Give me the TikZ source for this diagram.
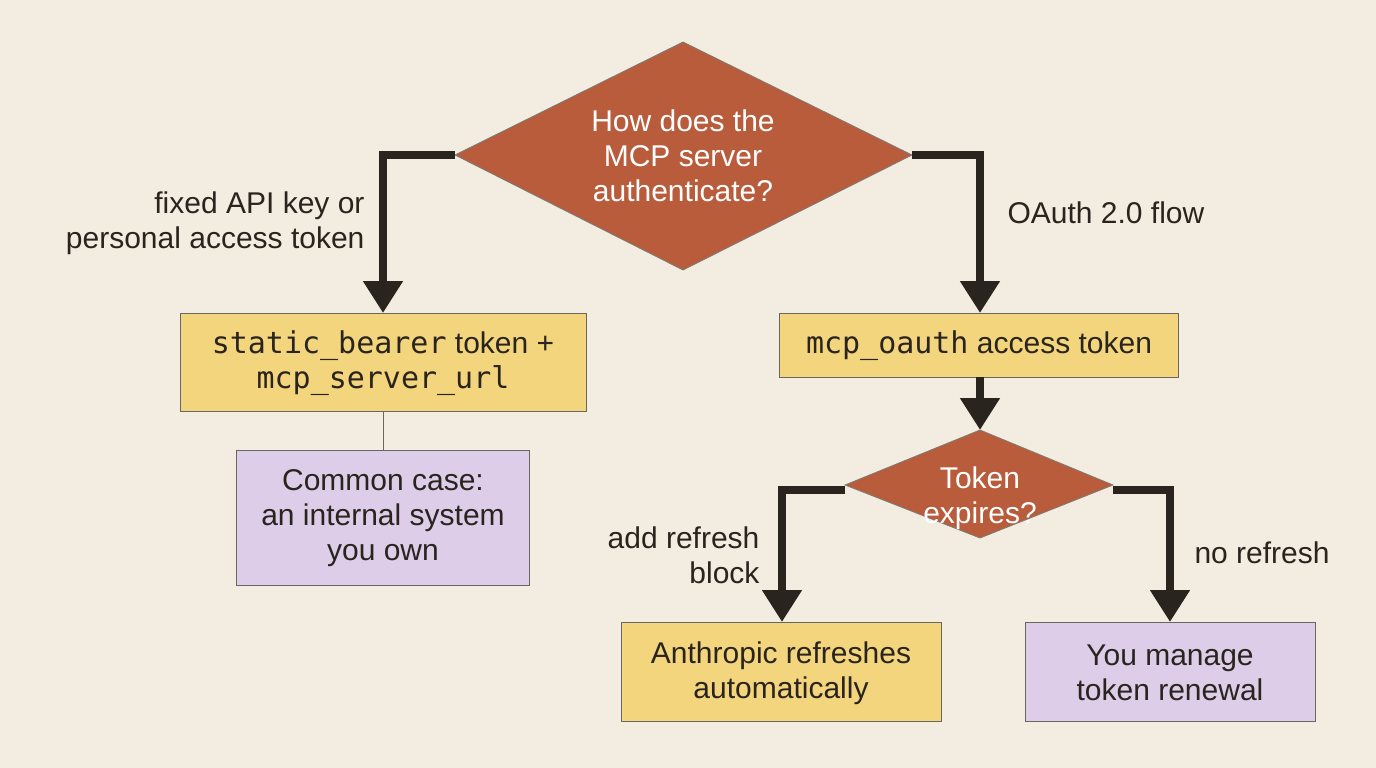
\documentclass[tikz,border=0pt]{standalone}
\usepackage{fontspec}
\setmainfont{Liberation Sans}
\setmonofont{DejaVu Sans Mono}
\usetikzlibrary{arrows.meta}
\definecolor{bg}{HTML}{F2EDE0}
\definecolor{rust}{HTML}{B85C3C}
\definecolor{ylw}{HTML}{F3D57E}
\definecolor{lav}{HTML}{DDCDE8}
\definecolor{ink}{HTML}{2A241E}
\begin{document}
\begin{tikzpicture}[x=1pt,y=-1pt,
  txt/.style={font=\fontsize{30}{35}\selectfont,text=ink,align=center},
  lbl/.style={font=\fontsize{30}{35}\selectfont,text=ink},
  ybox/.style={fill=ylw,draw=ink!70,line width=0.8pt},
  pbox/.style={fill=lav,draw=ink!70,line width=0.8pt},
  dia/.style={fill=rust,draw=ink!60,line width=0.8pt},
  arr/.style={draw=ink,line width=8pt,-{Triangle[width=38pt,length=32pt]}}]
\fill[bg] (0,0) rectangle (1376,768);
\useasboundingbox (0,0) rectangle (1376,768);
% main diamond
\draw[dia] (683,42) -- (912,155) -- (683,270) -- (455,155) -- cycle;
\node[txt,text=white] (d1) at (683,156) {How does the\\MCP server\\authenticate?};
\coordinate (d1l) at (455,155); \coordinate (d1r) at (912,155);
% boxes
\draw[ybox] (180,313) rectangle (586,411);
\node[txt] (b1) at (383,363) {\texttt{static\_bearer} token +\\\texttt{mcp\_server\_url}};
\draw[pbox] (236,450) rectangle (529,585);
\node[txt] (p1) at (383,518) {Common case:\\an internal system\\you own};
\draw[ybox] (779,313) rectangle (1178,377);
\node[txt] (b2) at (979,346) {\texttt{mcp\_oauth} access token};
\draw[dia] (980,430) -- (1113,485) -- (980,538) -- (845,485) -- cycle;
\node[txt,text=white] (d2) at (980,498) {Token\\expires?};
\draw[ybox] (621,622) rectangle (941,721);
\node[txt] (b3) at (781,673) {Anthropic refreshes\\automatically};
\draw[pbox] (1025,622) rectangle (1315,721);
\node[txt] (p2) at (1170,673) {You manage\\token renewal};
% connectors
\coordinate (t1) at (383,313); \coordinate (t2) at (980,313);
\coordinate (t3) at (782,622); \coordinate (t4) at (1170,622);
\draw[arr] (d1l) -- (383,155) -- (t1);
\draw[arr] (d1r) -- (980,155) -- (t2);
\draw[arr] (980,377) -- (980,430);
\draw[arr] (845,490) -- (782,490) -- (t3);
\draw[arr] (1113,490) -- (1170,490) -- (t4);
\draw[ink!70,line width=1pt] (383,411) -- (383,450);
% labels
\node[lbl,align=right,anchor=east] (l1) at (368,223) {fixed API key or\\personal access token};
\node[lbl,anchor=west] (l2) at (1004,213) {OAuth 2.0 flow};
\node[lbl,align=right,anchor=east] (l3) at (763,555) {add refresh\\block};
\node[lbl,anchor=west] (l4) at (1191,553) {no refresh};
\end{tikzpicture}
\end{document}
